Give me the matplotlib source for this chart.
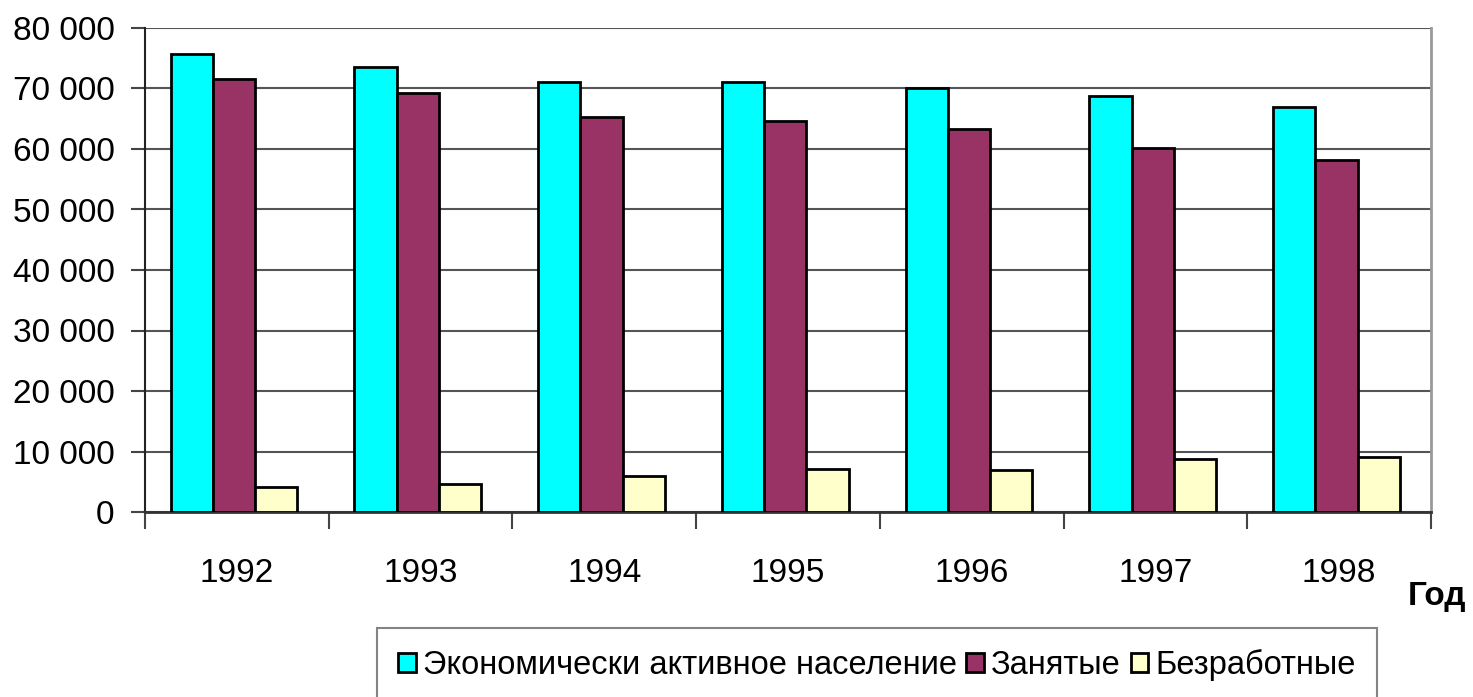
import numpy as np
import matplotlib.pyplot as plt
from matplotlib.ticker import FuncFormatter

plt.rcParams['font.family'] = ['Liberation Sans Narrow', 'Liberation Sans', 'DejaVu Sans']

years = ["1992", "1993", "1994", "1995", "1996", "1997", "1998"]
active = [75700, 73600, 71100, 71100, 70100, 68700, 67000]
employed = [71600, 69200, 65300, 64700, 63300, 60200, 58200]
unemployed = [4150, 4600, 6000, 7050, 7000, 8700, 9100]
labels = ["Экономически активное население", "Занятые", "Безработные"]
colors = ["#00FFFF", "#993366", "#FFFFCC"]


def main():
    fig = plt.figure(figsize=(14.73, 6.97), dpi=100)
    ax = fig.add_axes([145 / 1473, 1 - 512 / 697, (1431 - 145) / 1473, (512 - 28) / 697])

    x = np.arange(len(years))
    w = 0.23
    series = [active, employed, unemployed]
    bars = []
    for i, vals in enumerate(series):
        b = ax.bar(x + (i - 1) * w - 0.015, vals, w, color=colors[i],
                   edgecolor="black", linewidth=2, zorder=3, label=labels[i])
        bars.append(b)

    ax.set_xlim(-0.5, len(years) - 0.5)
    ax.set_ylim(0, 80000)
    ax.set_yticks(np.arange(0, 80001, 10000))
    ax.yaxis.set_major_formatter(FuncFormatter(lambda v, p: f"{int(v):,}".replace(",", " ")))
    ax.yaxis.grid(True, color="#555555", linewidth=1.5, zorder=0)

    # category separators as ticks, labels centered
    ax.set_xticks(np.arange(-0.5, len(years), 1.0))
    ax.set_xticklabels([])
    ax.set_xticks(x, minor=True)
    ax.set_xticklabels(years, minor=True)
    ax.tick_params(axis="x", which="major", length=12, width=1.5, color="#444444")
    ax.tick_params(axis="x", which="minor", length=0, pad=33, labelsize=24)
    ax.tick_params(axis="y", length=10, width=1.5, color="#444444", labelsize=24, pad=12)

    ax.spines["top"].set_visible(False)
    ax.spines["left"].set_color("#222222")
    ax.spines["left"].set_linewidth(1.5)
    ax.spines["right"].set_color("#999999")
    ax.spines["right"].set_linewidth(2)
    ax.spines["bottom"].set_color("#333333")
    ax.spines["bottom"].set_linewidth(2)

    fig.text(1408 / 1473, 1 - 596 / 697, "Год", fontsize=24, fontweight="bold",
             va="center", ha="left")

    leg = fig.legend(handles=bars, labels=labels, loc="upper left",
                     bbox_to_anchor=(377 / 1473, 1 - 628 / 697), ncol=3,
                     fontsize=23.5, frameon=True, fancybox=False, borderpad=0.65,
                     handlelength=0.55, handleheight=0.55, handletextpad=0.2,
                     columnspacing=0.3, borderaxespad=0)
    leg.get_frame().set_edgecolor("#666666")
    leg.get_frame().set_linewidth(1.5)

    fig.savefig("out.png", dpi=100)


if __name__ == "__main__":
    main()
